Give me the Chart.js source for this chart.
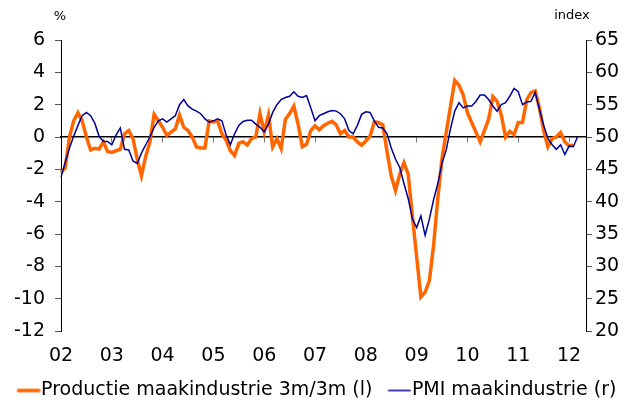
<!DOCTYPE html>
<html>
<head>
<meta charset="utf-8">
<script src="https://cdn.jsdelivr.net/npm/chart.js@4"></script>
<style>
    html, body { margin: 0; padding: 0; background: #fff; }
</style>
</head>
<body>
<canvas id="chart" width="624" height="402"></canvas>
<script>
// year tick labels, one category per month from Jan 2002 to May 2012
const years = ['02', '03', '04', '05', '06', '07', '08', '09', '10', '11', '12'];
const months = [];
years.forEach(y => {
    for (let m = 1; m <= 12; m++) months.push('20' + y + '-' + String(m).padStart(2, '0'));
});
months.length = 125;

// productie maakindustrie, 3m/3m in % (left axis), Jan 2002 - Feb 2012
const productie = [
    -2.2, -1.9, 0.0, 1.0, 1.5, 1.0, 0.0, -0.8, -0.7, -0.75,
    -0.3, -0.9, -0.95, -0.85, -0.75, 0.2, 0.4, -0.1, -1.35, -2.4,
    -1.2, -0.3, 1.4, 1.0, 0.6, 0.1, 0.3, 0.5, 1.35, 0.6,
    0.4, 0.0, -0.62, -0.68, -0.68, 1.0, 0.93, 1.0, 0.2, -0.2,
    -0.85, -1.15, -0.4, -0.3, -0.5, -0.1, 0.0, 1.45, 0.3, 1.35,
    -0.62, -0.1, -0.72, 1.1, 1.45, 1.9, 0.8, -0.6, -0.45, 0.4,
    0.7, 0.45, 0.7, 0.85, 0.97, 0.75, 0.2, 0.4, 0.0, 0.0,
    -0.3, -0.5, -0.25, 0.05, 0.93, 0.9, 0.75, -0.9, -2.4, -3.3,
    -2.3, -1.6, -2.3, -4.9, -7.4, -9.9, -9.6, -8.9, -6.7, -3.8,
    -1.3, 0.3, 1.9, 3.5, 3.2, 2.6, 1.5, 0.9, 0.3, -0.3,
    0.4, 1.1, 2.5, 2.2, 1.35, 0.0, 0.35, 0.15, 0.9, 0.9,
    2.3, 2.75, 2.85, 1.8, 0.4, -0.6, -0.1, 0.0, 0.27, -0.3,
    -0.55, -0.5
];

// PMI maakindustrie, index (right axis), Jan 2002 - Mar 2012
const pmi = [
    43.8, 46.1, 48.3, 50.1, 51.8, 53.3, 53.8, 53.3, 52.1, 50.1,
    49.3, 49.3, 48.8, 50.3, 51.4, 48.1, 48.0, 46.3, 45.9, 47.5,
    48.8, 50.0, 51.5, 52.5, 52.8, 52.3, 52.8, 53.3, 55.0, 55.8,
    54.8, 54.3, 54.0, 53.6, 52.8, 52.3, 52.5, 52.8, 52.5, 50.3,
    48.8, 50.5, 51.8, 52.4, 52.6, 52.6, 52.0, 51.5, 50.8, 52.0,
    53.8, 55.0, 55.8, 56.1, 56.3, 57.0, 56.3, 56.1, 56.4, 54.5,
    52.5, 53.3, 53.6, 53.9, 54.1, 54.0, 53.6, 52.8, 51.0, 50.5,
    51.8, 53.5, 53.9, 53.8, 52.5, 51.5, 51.4, 50.5, 48.3, 46.6,
    45.3, 42.8, 40.5, 37.3, 36.0, 37.8, 34.8, 37.3, 40.3, 42.8,
    46.0, 48.0, 51.3, 54.0, 55.3, 54.5, 54.8, 54.8, 55.5, 56.5,
    56.5, 55.8, 54.8, 54.0, 55.0, 55.3, 56.3, 57.5, 57.0, 55.0,
    55.4, 55.5, 56.9, 54.3, 51.8, 49.8, 48.8, 48.1, 48.8, 47.3,
    48.6, 48.5, 50.0
];

const ORANGE = '#ff6600';
const NAVY = '#000096';
const FONT_SIZE = 19;
const LEGEND_BOX = 24;
const isJan = i => months[i] && months[i].endsWith('-01');

Chart.defaults.font.family = '"DejaVu Sans", Verdana, sans-serif';
Chart.defaults.font.size = FONT_SIZE;
Chart.defaults.color = '#000';

// legend swatch: a 23px line that ends right where its label starts
function legendLine(color, width) {
    const c = document.createElement('canvas');
    c.width = 42;
    c.height = 8;
    const end = c.width / 2 + LEGEND_BOX / 2 + FONT_SIZE / 2 - 1;
    const g = c.getContext('2d');
    g.strokeStyle = color;
    g.lineWidth = width;
    g.beginPath();
    g.moveTo(end - 23, 4);
    g.lineTo(end, 4);
    g.stroke();
    return c;
}

// "%" and "index" above the two value axes
const unitLabels = {
    id: 'unitLabels',
    afterDraw(chart) {
        const { ctx, scales } = chart;
        ctx.save();
        ctx.font = '13px "DejaVu Sans"';
        ctx.fillStyle = '#000';
        ctx.textAlign = 'center';
        ctx.textBaseline = 'middle';
        ctx.fillText('%', scales.y.right - 1, 17);
        ctx.fillText('index', scales.y1.left - 14, 16);
        ctx.restore();
    }
};

new Chart(document.getElementById('chart'), {
    type: 'line',
    data: {
        labels: months,
        datasets: [{
            label: 'Productie maakindustrie 3m/3m (l)',
            data: productie,
            yAxisID: 'y',
            borderColor: ORANGE,
            borderWidth: 3.5,
            pointRadius: 0,
            pointStyle: legendLine(ORANGE, 3.5),
            tension: 0,
            order: 1
        }, {
            label: 'PMI maakindustrie (r)',
            data: pmi,
            yAxisID: 'y1',
            borderColor: NAVY,
            borderWidth: 1.5,
            pointRadius: 0,
            pointStyle: legendLine(NAVY, 1.5),
            tension: 0,
            order: 0
        }]
    },
    options: {
        responsive: false,
        animation: false,
        layout: { padding: { top: 40, left: 0, right: 0, bottom: -8 } },
        plugins: {
            tooltip: { enabled: false },
            legend: {
                position: 'bottom',
                labels: {
                    usePointStyle: true,
                    pointStyleWidth: LEGEND_BOX,
                    padding: 6,
                    color: '#000',
                    sort: (a, b) => a.datasetIndex - b.datasetIndex
                }
            }
        },
        scales: {
            x: {
                position: 'bottom',
                grid: { display: false },
                border: { display: false },
                ticks: {
                    autoSkip: false,
                    maxRotation: 0,
                    padding: 6,
                    callback: (v, i) => isJan(i) ? months[i].slice(2, 4) : ''
                },
                afterFit: s => { s.height = 44; }
            },
            xZero: {
                type: 'category',
                position: { y: 0 },
                grid: {
                    drawOnChartArea: false,
                    tickLength: 5,
                    tickColor: c => isJan(c.index) ? '#777' : 'rgba(0,0,0,0)'
                },
                border: { color: '#000', width: 1.5 },
                ticks: { display: false, autoSkip: false }
            },
            y: {
                position: 'left',
                min: -12,
                max: 6,
                ticks: { stepSize: 2, padding: 10 },
                grid: { drawOnChartArea: false, tickLength: 6, tickColor: '#555' },
                border: { color: '#000' },
                afterFit: s => { s.width = 61; }
            },
            y1: {
                position: 'right',
                min: 20,
                max: 65,
                ticks: { stepSize: 5, padding: 3 },
                grid: { drawOnChartArea: false, tickLength: 6, tickColor: '#555' },
                border: { color: '#000' },
                afterFit: s => { s.width = 38; }
            }
        }
    },
    plugins: [unitLabels]
});
</script>
</body>
</html>
